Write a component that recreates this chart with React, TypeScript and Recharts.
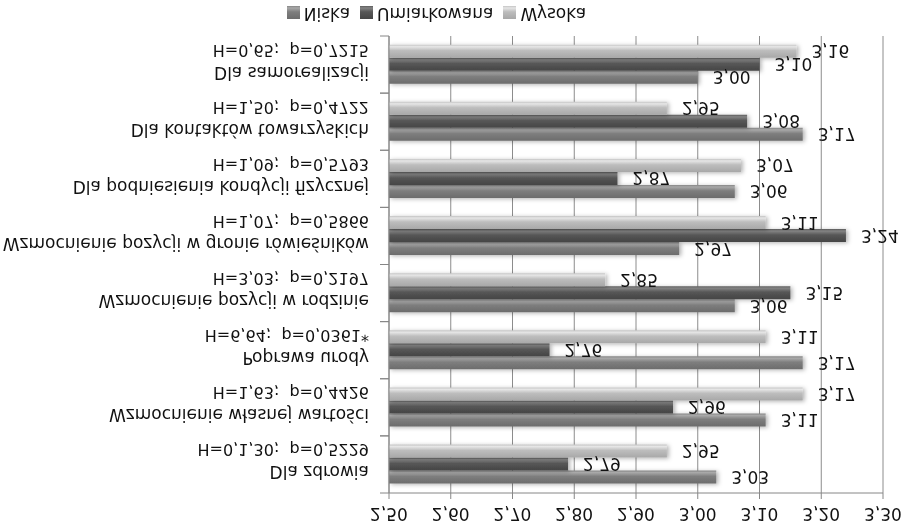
import React from 'react';
import { BarChart, Bar, XAxis, YAxis, CartesianGrid, Legend, LabelList } from 'recharts';

// the reference picture is mirrored top-to-bottom, so the chart is built the
// "normal" way (axis on top, legend at the bottom) and flipped as a whole

const categories = [
  'Dla zdrowia',
  'Wzmocnienie własnej wartości',
  'Poprawa urody',
  'Wzmocnienie pozycji w rodzinie',
  'Wzmocnienie pozycji w gronie rówieśników',
  'Dla podniesienia kondycji fizycznej',
  'Dla kontaktów towarzyskich',
  'Dla samorealizacji',
];

const stats = [
  'H=0,1,30;  p=0,5229',
  'H=1,63;  p=0,4426',
  'H=6,64;  p=0,0361*',
  'H=3,03;  p=0,2197',
  'H=1,07;  p=0,5866',
  'H=1,09;  p=0,5793',
  'H=1,50;  p=0,4722',
  'H=0,65;  p=0,7215',
];

const niska = [3.03, 3.11, 3.17, 3.06, 2.97, 3.06, 3.17, 3.0];
const umiarkowana = [2.79, 2.96, 2.76, 3.15, 3.24, 2.87, 3.08, 3.1];
const wysoka = [2.95, 3.17, 3.11, 2.85, 3.11, 3.07, 2.95, 3.16];

const xTicks = [2.5, 2.6, 2.7, 2.8, 2.9, 3.0, 3.1, 3.2, 3.3];

const data = categories.map((name, i) => ({
  name,
  niska: niska[i],
  umiarkowana: umiarkowana[i],
  wysoka: wysoka[i],
}));

const fmt = (v: any) => Number(v).toFixed(2).replace('.', ',');

const FONT = '"DejaVu Sans", Verdana, sans-serif';
const AXIS = '#868686';

const CategoryTick = (props: any) => {
  const { x, y, payload } = props;
  const i = categories.indexOf(payload.value);
  const half = payload.offset ?? 0;
  return (
    <g>
      <line x1={x + 11} x2={x + 20} y1={y - half} y2={y - half} stroke={AXIS} />
      <line x1={x + 11} x2={x + 20} y1={y + half} y2={y + half} stroke={AXIS} />
      <text
        x={x}
        y={y}
        textAnchor="end"
        fontSize={17}
        fill="#111"
        fontFamily={FONT}
        style={{ whiteSpace: 'pre' }}
      >
        <tspan x={x} dy={-2}>{payload.value}</tspan>
        <tspan x={x} dy={22} fontSize={16}>{stats[i]}</tspan>
      </text>
    </g>
  );
};

export default function App() {
  return (
    <div
      style={{
        position: 'absolute',
        left: 0,
        top: 0,
        width: 909,
        height: 528,
        background: '#fff',
        fontFamily: FONT,
        transform: 'scaleY(-1)',
      }}
    >
      <BarChart
        width={909}
        height={528}
        data={data}
        layout="vertical"
        margin={{ top: 0, right: 26, bottom: 36, left: 0 }}
        barCategoryGap="16.5%"
        barGap={0}
        style={{ fontFamily: FONT }}
      >
        <defs>
          <linearGradient id="gNiska" x1="0" y1="0" x2="0" y2="1">
            <stop offset="0%" stopColor="#6c6c6c" />
            <stop offset="55%" stopColor="#7e7e7e" />
            <stop offset="85%" stopColor="#a9a9a9" />
            <stop offset="100%" stopColor="#858585" />
          </linearGradient>
          <linearGradient id="gUmiark" x1="0" y1="0" x2="0" y2="1">
            <stop offset="0%" stopColor="#454545" />
            <stop offset="55%" stopColor="#575757" />
            <stop offset="85%" stopColor="#848484" />
            <stop offset="100%" stopColor="#5c5c5c" />
          </linearGradient>
          <linearGradient id="gWysoka" x1="0" y1="0" x2="0" y2="1">
            <stop offset="0%" stopColor="#a8a8a8" />
            <stop offset="55%" stopColor="#bdbdbd" />
            <stop offset="85%" stopColor="#e6e6e6" />
            <stop offset="100%" stopColor="#c4c4c4" />
          </linearGradient>
          <filter id="barShadow" x="-5%" y="-40%" width="110%" height="180%">
            <feDropShadow dx="2" dy="-1" stdDeviation="2" floodColor="#000" floodOpacity="0.3" />
          </filter>
        </defs>
        <CartesianGrid horizontal={false} stroke="#8c8c8c" />
        <XAxis
          type="number"
          orientation="top"
          domain={[2.5, 3.3]}
          ticks={xTicks}
          interval={0}
          height={35}
          tickSize={6}
          tickMargin={9}
          tickFormatter={fmt}
          tick={{ fontSize: 17, fill: '#111' }}
          stroke={AXIS}
        />
        <YAxis
          type="category"
          dataKey="name"
          width={389}
          tickLine={false}
          tickSize={0}
          tickMargin={20}
          tick={<CategoryTick />}
          interval={0}
          stroke={AXIS}
        />
        <Legend
          verticalAlign="middle"
          align="center"
          layout="horizontal"
          iconType="square"
          iconSize={13}
          wrapperStyle={{ top: 504 }}
          formatter={(v: any) => <span style={{ color: '#111', fontSize: 17 }}>{v}</span>}
        />
        <Bar dataKey="niska" name="Niska" fill="url(#gNiska)" filter="url(#barShadow)" isAnimationActive={false}>
          <LabelList dataKey="niska" position="right" offset={15} formatter={fmt} fill="#111" fontSize={17} />
        </Bar>
        <Bar dataKey="umiarkowana" name="Umiarkowana" fill="url(#gUmiark)" filter="url(#barShadow)" isAnimationActive={false}>
          <LabelList dataKey="umiarkowana" position="right" offset={15} formatter={fmt} fill="#111" fontSize={17} />
        </Bar>
        <Bar dataKey="wysoka" name="Wysoka" fill="url(#gWysoka)" filter="url(#barShadow)" isAnimationActive={false}>
          <LabelList dataKey="wysoka" position="right" offset={15} formatter={fmt} fill="#111" fontSize={17} />
        </Bar>
      </BarChart>
    </div>
  );
}
